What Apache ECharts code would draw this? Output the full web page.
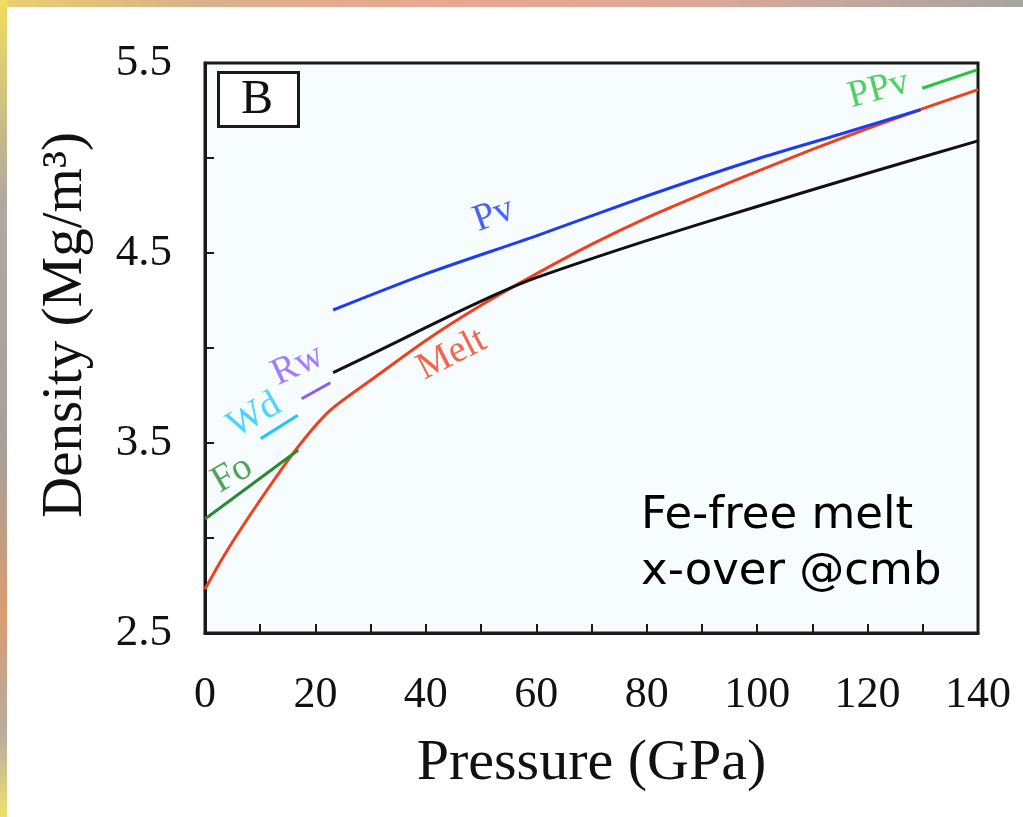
<!DOCTYPE html>
<html>
<head>
<meta charset="utf-8">
<script src="https://cdn.jsdelivr.net/npm/echarts@6/dist/echarts.min.js"></script>
<style>
  html, body { margin: 0; padding: 0; width: 1023px; height: 817px; overflow: hidden; }
  body { background: linear-gradient(90deg, #e8d070 0%, #d8b08a 20%, #e8a890 45%, #d8a898 70%, #a8a4a0 100%); position: relative; }
  #side { position: absolute; left: 0; top: 0; width: 8px; height: 817px;
          background: linear-gradient(180deg, #f0dc60 0%, #b0a8a0 25%, #a8a098 55%, #d89c70 75%, #b8aca0 90%, #f0e070 100%); }
  #panel { position: absolute; left: 7px; top: 7px; right: 0; bottom: 0; background: #ffffff; }
  #chart { position: absolute; left: 0; top: 0; width: 1023px; height: 817px; }
</style>
</head>
<body>
<div id="side"></div>
<div id="panel"></div>
<div id="chart"></div>
<script>
// ---- data ----
const meltPressure = [0, 2.5, 5, 10, 16.6, 22.6, 30, 40, 50, 60, 70, 80, 90, 100, 110, 120, 130, 140];
const meltDensity  = [2.73, 2.86, 2.98, 3.20, 3.47, 3.67, 3.83, 4.04, 4.225, 4.39, 4.545, 4.685, 4.81, 4.93, 5.045, 5.155, 5.26, 5.36];

const blackPressure = [23.2, 35.3, 43.7, 53.3, 60, 80, 100, 120, 140];
const blackDensity  = [3.87, 4.04, 4.16, 4.29, 4.37, 4.565, 4.745, 4.92, 5.09];

const pvPressure = [23.2, 40, 60, 80, 100, 115, 129.6];
const pvDensity  = [4.20, 4.39, 4.59, 4.80, 4.995, 5.125, 5.254];

const foPressure  = [0, 16.9];
const foDensity   = [3.10, 3.463];
const wdPressure  = [10.1, 16.8];
const wdDensity   = [3.523, 3.646];
const rwPressure  = [17.5, 22.7];
const rwDensity   = [3.733, 3.817];
const ppvPressure = [129.9, 139.8];
const ppvDensity  = [5.367, 5.464];

const phaseNames    = ['Fo', 'Wd', 'Rw', 'Pv', 'Melt', 'PPv'];
const phasePressure = [4.9, 8.9, 16.8, 52.3, 44.7, 122];
const phaseDensity  = [3.335, 3.645, 3.91, 4.70, 3.966, 5.36];

const xTicks = [0, 20, 40, 60, 80, 100, 120, 140];
const yTicks = [2.5, 3.5, 4.5, 5.5];

const panelLetter = 'B';
const noteLines = ['Fe-free melt', 'x-over @cmb'];
const xName = 'Pressure (GPa)';
const yName = 'Density (Mg/m³)';

// ---- styles ----
const colors = { Melt: '#f0401e', black: '#111111', Pv: '#1e3cf0', Fo: '#2a8a34', Wd: '#20c8ff', Rw: '#8a5cff', PPv: '#28c43c' };
const labelRot = { Fo: 30, Wd: 30, Rw: 25, Pv: 20, Melt: 27, PPv: 15 };

function pairs(xs, ys) { return xs.map((x, i) => [x, ys[i]]); }
function lineSeries(name, xs, ys, color, smooth) {
  return { name, type: 'line', data: pairs(xs, ys), symbol: 'none', smooth: smooth ? 0.25 : false,
           lineStyle: { color, width: 3 }, z: 3, silent: true };
}
const serif = 'Liberation Serif, Times New Roman, serif';

const chart = echarts.init(document.getElementById('chart'), null, { renderer: 'canvas' });
chart.setOption({
  animation: false,
  backgroundColor: 'transparent',
  grid: { left: 205, right: 45, top: 63, bottom: 184, show: true, backgroundColor: '#f7fcfe', borderColor: '#1a1a1a', borderWidth: 3, containLabel: false },
  xAxis: {
    type: 'value', min: 0, max: 140, interval: 10,
    name: xName, nameLocation: 'middle', nameGap: 102,
    nameTextStyle: { fontFamily: serif, fontSize: 58, color: '#111' },
    axisLine: { show: true, lineStyle: { color: '#1a1a1a', width: 3 } },
    axisTick: { show: true, inside: true, length: 9, lineStyle: { color: '#1a1a1a', width: 2 } },
    splitLine: { show: false },
    axisLabel: { margin: 40, fontFamily: serif, fontSize: 44, color: '#111',
      formatter: v => (xTicks.indexOf(v) >= 0 ? String(v) : '') }
  },
  yAxis: {
    type: 'value', min: 2.5, max: 5.5, interval: 0.5,
    axisLine: { show: true, lineStyle: { color: '#1a1a1a', width: 3 } },
    axisTick: { show: true, inside: true, length: 9, lineStyle: { color: '#1a1a1a', width: 2 } },
    splitLine: { show: false },
    axisLabel: { margin: 33, fontFamily: serif, fontSize: 45, color: '#111',
      formatter: v => (yTicks.some(t => Math.abs(t - v) < 1e-6) ? v.toFixed(1) : '') }
  },
  series: [
    lineSeries('Melt', meltPressure, meltDensity, colors.Melt, true),
    lineSeries('Mantle', blackPressure, blackDensity, colors.black, true),
    lineSeries('Pv', pvPressure, pvDensity, colors.Pv, true),
    lineSeries('Fo', foPressure, foDensity, colors.Fo, false),
    lineSeries('Wd', wdPressure, wdDensity, colors.Wd, false),
    lineSeries('Rw', rwPressure, rwDensity, colors.Rw, false),
    lineSeries('PPv', ppvPressure, ppvDensity, colors.PPv, false),
    {
      type: 'scatter', symbolSize: 0, silent: true, z: 4,
      data: phaseNames.map((n, i) => ({
        value: [phasePressure[i], phaseDensity[i]],
        label: { show: true, position: 'inside', formatter: n, rotate: labelRot[n],
                 color: colors[n], fontFamily: serif, fontSize: 38 }
      }))
    }
  ],
  graphic: [
    { type: 'text', x: 66, y: 325, rotation: Math.PI / 2,
      style: { text: yName, font: '57px ' + serif, fill: '#111', align: 'center', verticalAlign: 'middle' }, z: 11 },
    { type: 'rect', left: 217, top: 71, shape: { width: 80, height: 54 }, style: { fill: '#ffffff', stroke: '#1a1a1a', lineWidth: 3 }, z: 10 },
    { type: 'text', x: 257, y: 100, style: { text: panelLetter, font: '48px ' + serif, fill: '#111', align: 'center', verticalAlign: 'middle' }, z: 11 },
    { type: 'text', left: 641, top: 488, style: { text: noteLines.join('\n'), font: '45px DejaVu Sans, sans-serif', lineHeight: 56, fill: '#000' }, z: 11 }
  ]
});
</script>
</body>
</html>
